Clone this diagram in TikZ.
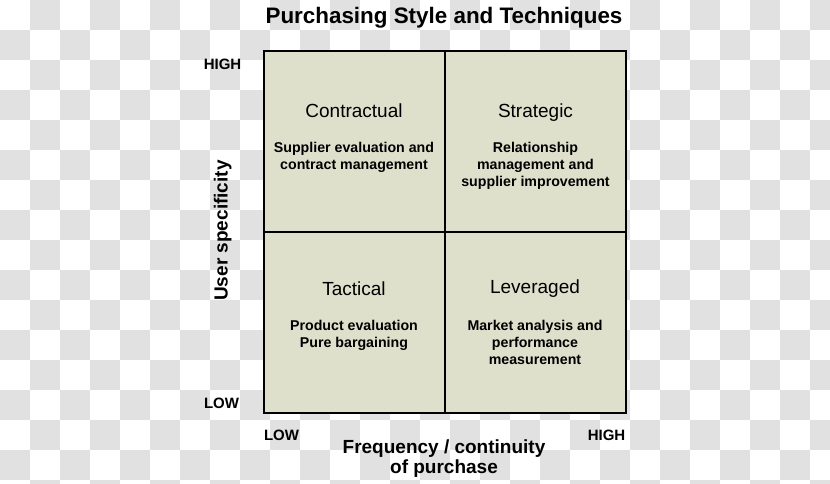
\documentclass[tikz,border=0pt]{standalone}
\usepackage{fontspec}
\setmainfont{Liberation Sans}
\definecolor{checkgray}{RGB}{225,225,225}
\definecolor{cellfill}{RGB}{222,224,204}
\begin{document}
\begin{tikzpicture}[x=1pt,y=-1pt,
    heading/.style={font=\fontsize{19}{21}\selectfont},
    detail/.style={font=\bfseries\fontsize{14.2}{17}\selectfont,align=center,anchor=north,inner sep=0pt},
    level/.style={font=\bfseries\fontsize{15}{17}\selectfont,anchor=base,inner sep=0pt},
    axis/.style={font=\bfseries\fontsize{19}{20}\selectfont,align=center,inner sep=0pt}]
    \useasboundingbox (0,0) rectangle (830,484);
    \clip (0,0) rectangle (830,484);
    % transparency checkerboard
    \fill[white] (0,0) rectangle (830,484);
    \foreach \i in {0,...,27}{
      \foreach \j in {0,...,16}{
        \pgfmathtruncatemacro\odd{mod(\i+\j,2)}
        \ifnum\odd=1 \fill[checkgray] (30*\i,30*\j) rectangle ++(30,30); \fi
      }
    }
    % matrix
    \draw[line width=2pt,fill=cellfill] (264,51) rectangle (626,412.5);
    \draw[line width=2pt] (445,51) -- (445,412.5);
    \draw[line width=2pt] (264,232) -- (626,232);
    \node[font=\bfseries\fontsize{22.4}{24}\selectfont,anchor=base] (title) at (444,23.3) {Purchasing Style and Techniques};
    % quadrants
    \node[heading,anchor=base] (contract) at (354,117.3) {Contractual};
    \node[detail] (contractd) at (354,141.7) {Supplier evaluation and\\contract management};
    \node[heading,anchor=base] (strat) at (535.5,117.3) {Strategic};
    \node[detail] (stratd) at (535.5,141.7) {Relationship\\management and\\supplier improvement};
    \node[heading,anchor=base] (tact) at (354,295.7) {Tactical};
    \node[detail] (tactd) at (354,320) {Product evaluation\\Pure bargaining};
    \node[heading,anchor=base] (lever) at (535,293.3) {Leveraged};
    \node[detail] (leverd) at (535,320) {Market analysis and\\performance\\measurement};
    % axes
    \node[level] (yhigh) at (222.5,70) {HIGH};
    \node[level] (ylow) at (221.5,408) {LOW};
    \node[level] (xlow) at (281.5,440) {LOW};
    \node[level] (xhigh) at (606.5,440) {HIGH};
    \node[axis,rotate=90,anchor=base] (yaxis) at (227.5,230.5) {User specificity};
    \node[axis,anchor=north] (xaxis) at (444,439.3) {Frequency / continuity\\of purchase};
\end{tikzpicture}
\end{document}
